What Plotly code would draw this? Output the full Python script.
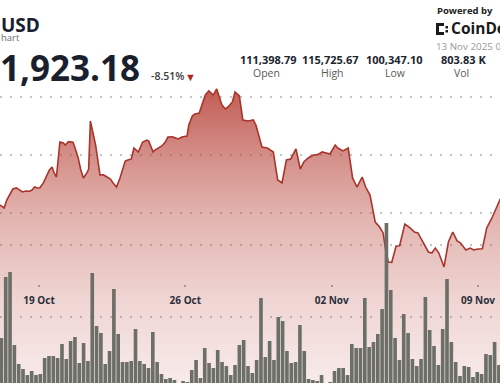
import plotly.graph_objects as go
import pandas as pd

# ---------------- data ----------------
price_time = [
    "2025-10-17 03:00", "2025-10-17 08:00", "2025-10-17 11:00", "2025-10-17 15:00", "2025-10-17 18:00",
    "2025-10-17 22:00", "2025-10-18 02:00", "2025-10-18 05:00", "2025-10-18 09:00", "2025-10-18 13:00",
    "2025-10-18 16:00", "2025-10-18 19:00", "2025-10-18 22:00", "2025-10-19 01:00", "2025-10-19 05:00",
    "2025-10-19 09:00", "2025-10-19 12:00", "2025-10-19 15:00", "2025-10-19 17:00", "2025-10-19 20:00",
    "2025-10-20 00:00", "2025-10-20 04:00", "2025-10-20 06:00", "2025-10-20 10:00", "2025-10-20 15:00",
    "2025-10-20 17:00", "2025-10-20 21:00", "2025-10-21 00:00", "2025-10-21 03:00", "2025-10-21 07:00",
    "2025-10-21 09:00", "2025-10-21 11:00", "2025-10-21 14:00", "2025-10-21 17:00", "2025-10-21 22:00",
    "2025-10-22 02:00", "2025-10-22 06:00", "2025-10-22 10:00", "2025-10-22 13:00", "2025-10-22 17:00",
    "2025-10-22 21:00", "2025-10-23 03:00", "2025-10-23 06:00", "2025-10-23 10:00", "2025-10-23 13:00",
    "2025-10-23 18:00", "2025-10-23 23:00", "2025-10-24 04:00", "2025-10-24 06:00", "2025-10-24 11:00",
    "2025-10-24 13:00", "2025-10-24 17:00", "2025-10-24 21:00", "2025-10-25 01:00", "2025-10-25 04:00",
    "2025-10-25 09:00", "2025-10-25 12:00", "2025-10-25 16:00", "2025-10-25 20:00", "2025-10-26 02:00",
    "2025-10-26 04:00", "2025-10-26 08:00", "2025-10-26 11:00", "2025-10-26 16:00", "2025-10-26 19:00",
    "2025-10-26 23:00", "2025-10-27 03:00", "2025-10-27 08:00", "2025-10-27 12:00", "2025-10-27 18:00",
    "2025-10-27 22:00", "2025-10-28 01:00", "2025-10-28 06:00", "2025-10-28 09:00", "2025-10-28 14:00",
    "2025-10-28 18:00", "2025-10-29 00:00", "2025-10-29 06:00", "2025-10-29 09:00", "2025-10-29 16:00",
    "2025-10-29 22:00", "2025-10-30 05:00", "2025-10-30 10:00", "2025-10-30 15:00", "2025-10-30 20:00",
    "2025-10-31 01:00", "2025-10-31 07:00", "2025-10-31 12:00", "2025-10-31 16:00", "2025-10-31 21:00",
    "2025-11-01 03:00", "2025-11-01 08:00", "2025-11-01 13:00", "2025-11-01 19:00", "2025-11-01 22:00",
    "2025-11-02 04:00", "2025-11-02 07:00", "2025-11-02 13:00", "2025-11-02 19:00", "2025-11-03 00:00",
    "2025-11-03 05:00", "2025-11-03 11:00", "2025-11-03 15:00", "2025-11-03 20:00", "2025-11-04 02:00",
    "2025-11-04 07:00", "2025-11-04 11:00", "2025-11-04 14:00", "2025-11-04 17:00", "2025-11-04 21:00",
    "2025-11-05 02:00", "2025-11-05 06:00", "2025-11-05 12:00", "2025-11-05 18:00", "2025-11-05 23:00",
    "2025-11-06 03:00", "2025-11-06 09:00", "2025-11-06 15:00", "2025-11-06 19:00", "2025-11-06 23:00",
    "2025-11-07 03:00", "2025-11-07 09:00", "2025-11-07 14:00", "2025-11-07 19:00", "2025-11-08 00:00",
    "2025-11-08 04:00", "2025-11-08 10:00", "2025-11-08 15:00", "2025-11-08 19:00", "2025-11-09 00:00",
    "2025-11-09 05:00", "2025-11-09 10:00", "2025-11-09 16:00", "2025-11-09 21:00", "2025-11-10 01:00",
    "2025-11-10 04:00",
]
price_close = [
    105690, 105430, 106120, 106720, 107070,
    107160, 106980, 106810, 106900, 106880,
    106980, 107240, 107160, 107180, 107590,
    108280, 108710, 108970, 108530, 108100,
    111120, 111030, 110860, 111150, 111100,
    110690, 109740, 108710, 108020, 108450,
    108790, 112930, 111980, 110860, 108280,
    108300, 108100, 107930, 107590, 107240,
    108020, 109480, 109570, 109660, 110600,
    110260, 111120, 111290, 111200, 110260,
    110430, 110600, 110780, 111120, 111550,
    111560, 111470, 111380, 111550, 111640,
    112590, 113360, 113530, 113620, 114310,
    115170, 115520, 115170, 115690, 114310,
    113970, 114140, 114570, 115430, 115090,
    113020, 112930, 113020, 112590, 110690,
    110600, 110260, 107850, 107590, 109570,
    109660, 110520, 108790, 109400, 109740,
    110000, 110030, 110260, 110170, 110090,
    110860, 110600, 110350, 110600, 108020,
    107240, 108100, 107240, 106550, 104220,
    103790, 103280, 101810, 100780, 100750,
    102160, 102180, 104050, 103710, 103360,
    103280, 102410, 101640, 101550, 101980,
    101550, 100350, 102500, 103360, 102590,
    102410, 101810, 101980, 101810, 101900,
    101920, 103710, 104570, 105520, 106120,
    106500,
]

# volume bars (BTC), one bar every 298 minutes
vol_start = "2025-10-17 04:50"
vol_step = "298min"
volume = [
    7080, 15560, 16250, 6110, 3470, 2780, 1940, 2500, 1940, 2080,
    4310, 4580, 4580, 4310, 6250, 4170, 6670, 7220, 3610, 6390,
    3890, 16110, 8750, 7780, 3470, 5280, 13890, 7640, 3750, 3750,
    3890, 8330, 3890, 3470, 2920, 7920, 3750, 2080, 1390, 1530,
    1250, 600, 1110, 970, 2640, 4030, 1530, 5690, 3610, 2920,
    5420, 3750, 3190, 1940, 3330, 6110, 6810, 3190,
    2220, 4030, 12640, 4440, 6670, 4030, 10000, 9440, 5280, 3610,
    3750, 8890, 5280, 1390, 1250, 1110, 1940, 700, 970, 2500,
    2920, 2920, 1940, 6250, 5690, 5690, 12640, 5830, 6530, 7640,
    11110, 23060, 13750, 7080, 4030, 10420, 7780, 4170, 3190, 4170,
    12780, 8190, 5970, 3330, 8330, 15280, 6530, 3750, 1810, 3190,
    3060, 1670, 2360, 2080, 4860, 4720, 6530, 3330,
]

tick_dates = ["2025-10-19", "2025-10-26", "2025-11-02", "2025-11-09"]
tick_labels = ["19 Oct", "26 Oct", "02 Nov", "09 Nov"]

price_grid = [105000, 110000, 115000]
volume_grid = [10000, 20000]

header = {
    "pair": "USD",
    "sub": "hart",
    "last": "1,923.18",
    "change": "-8.51%",
}
stat_values = ["111,398.79", "115,725.67", "100,347.10", "803.83 K"]
stat_names = ["Open", "High", "Low", "Vol"]

# ---------------- figure ----------------
W, H = 500, 383
vol_time = pd.date_range(vol_start, periods=len(volume), freq=vol_step)

RED = "rgba(185,72,62,{})"
fig = go.Figure()
fig.add_trace(go.Scatter(
    x=pd.to_datetime(price_time), y=price_close, mode="lines",
    line=dict(color="#a8342c", width=1.6),
    fill="tozeroy",
    fillgradient=dict(
        type="vertical", start=90345, stop=116000,
        colorscale=[[0, RED.format(0.11)], [0.28, RED.format(0.23)], [0.57, RED.format(0.42)],
                    [0.77, RED.format(0.62)], [1, RED.format(0.9)]],
    ),
    hoverinfo="skip", yaxis="y",
))
fig.add_trace(go.Bar(
    x=vol_time, y=volume, marker=dict(color="#6c6e68", line=dict(width=0)),
    hoverinfo="skip", yaxis="y2",
))

grid = dict(showgrid=True, gridcolor="#c4c4c4", griddash="2px,8px", gridwidth=1.5,
            zeroline=False, showticklabels=False, ticks="", showline=False)

fig.update_layout(
    width=W, height=H, margin=dict(l=0, r=0, t=0, b=0),
    paper_bgcolor="white", plot_bgcolor="white",
    showlegend=False, bargap=0.16,
    font=dict(family="Open Sans"),
    xaxis=dict(
        range=["2025-10-17 03:14", "2025-11-10 01:14"], domain=[0, 1],
        anchor="free", position=1 - 284 / H,
        tickvals=tick_dates, ticktext=tick_labels,
        ticks="outside", ticklen=2, tickwidth=2, tickcolor="#9a9a9a",
        ticklabelstandoff=5,
        tickfont=dict(family="Open Sans", size=10, color="#2b2f3a", weight=700),
        showgrid=False, showline=False, zeroline=False,
    ),
    yaxis=dict(range=[90345, 123362], tickvals=price_grid, domain=[0, 1], **grid),
    yaxis2=dict(range=[833, 54028], tickvals=volume_grid, overlaying="y", **grid),
)


def px(x):
    return x / W


def py(y):
    return 1 - y / H


def note(text, x, y, size, color, weight=400, xanchor="left"):
    fig.add_annotation(text=text, x=px(x), y=py(y), xref="paper", yref="paper",
                       xanchor=xanchor, yanchor="middle", showarrow=False,
                       font=dict(family="Open Sans", size=size, color=color, weight=weight))


note(header["pair"], -1, 25, 19, "#1b2030", 700)
note(header["sub"], -1, 37.5, 9.5, "#6b6b6b")
note(header["last"], -2, 67, 35, "#1a1f2e", 700)
note(header["change"], 149, 75.5, 10.5, "#3a3a3a", 600)
note("▼", 190.5, 76, 11, "#b3261e", 400, "center")

stat_x = [268.5, 330.5, 394, 463]
name_x = [266, 332, 395, 461.5]
for v, n, xv, xn in zip(stat_values, stat_names, stat_x, name_x):
    note(v, xv, 59, 11, "#20242e", 700, "center")
    note(n, xn, 72.5, 10.5, "#5a5a5a", 400, "center")

note("Powered by", 435, 10.5, 9.5, "#222222", 700)
note("CoinDesk", 449, 28.5, 15.5, "#1a1a1a", 700)
note("13 Nov 2025 03:00", 434, 46, 9.8, "#9a9a9a")

# CoinDesk logo glyph (decoration)
logo = [(436, 23, 439, 35), (436, 23, 444, 26), (436, 32, 444, 35), (445.5, 26, 448, 28.5), (445.5, 30, 448, 32.5)]
for x0, y0, x1, y1 in logo:
    fig.add_shape(type="rect", xref="paper", yref="paper", x0=px(x0), x1=px(x1), y0=py(y1), y1=py(y0),
                  fillcolor="#1a1a1a", line=dict(width=0))

fig.write_html("out.html")
